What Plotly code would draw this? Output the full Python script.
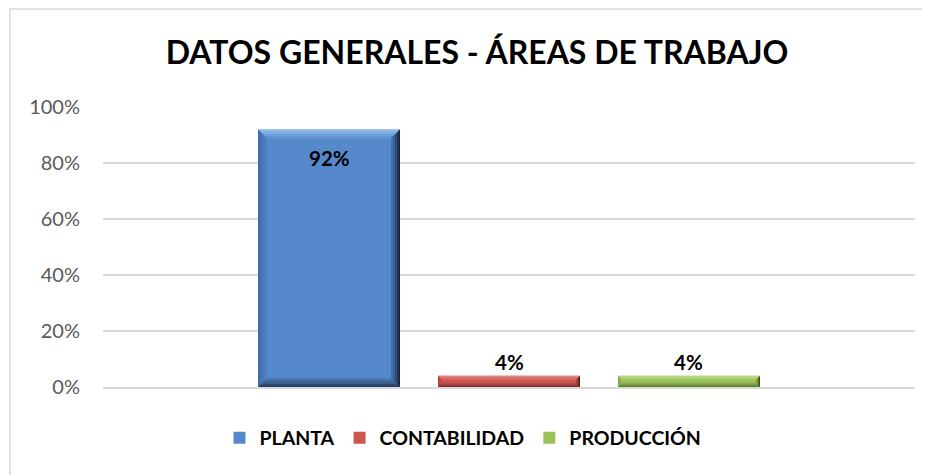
import plotly.graph_objects as go

# datos del gráfico
areas = ["PLANTA", "CONTABILIDAD", "PRODUCCIÓN"]
porcentajes = [0.92, 0.04, 0.04]
y_ticks = [0, 0.2, 0.4, 0.6, 0.8, 1.0]
y_tick_labels = ["0%", "20%", "40%", "60%", "80%", "100%"]

# colores: cara, borde superior, derecho, inferior, izquierdo (el bisel va del borde a la cara)
colores = [
    ("#5589cb", "#95bbeb", "#15243a", "#233b5e", "#3d6aa6"),
    ("#cd5651", "#e8938f", "#3e1514", "#6a2624", "#a8403c"),
    ("#9bc25a", "#c4e096", "#2e3d12", "#51682a", "#7e9f45"),
]

# la página añade 8px de margen al cuerpo, se compensa aquí
OFF = 8
W, H = 930, 475
PLOT_W, PLOT_H = 812, 280
M_L, M_T = 103 - OFF, 107 - OFF
M_R = W - M_L - PLOT_W
M_B = H - M_T - PLOT_H
BARGAP = 0.335
BARGROUPGAP = 0.211
FONT = "Lato"
STEPS = 5


def mezcla(c1, c2, t):
    a = [int(c1[k:k + 2], 16) for k in (1, 3, 5)]
    b = [int(c2[k:k + 2], 16) for k in (1, 3, 5)]
    return "#" + "".join("{:02x}".format(round(p + (q - p) * t)) for p, q in zip(a, b))


fig = go.Figure()
for i, (area, val) in enumerate(zip(areas, porcentajes)):
    fig.add_trace(
        go.Bar(
            x=[""],
            y=[val],
            name=area,
            marker=dict(color=colores[i][0], line=dict(width=0)),
            hoverinfo="skip",
        )
    )

# biseles y etiquetas calculados a partir de los valores
shapes = []
annotations = []
n = len(areas)
slot = (1 - BARGAP) / n
for i, val in enumerate(porcentajes):
    cx = -(1 - BARGAP) / 2 + slot * (i + 0.5)
    hw = slot * (1 - BARGROUPGAP) / 2
    x0, x1, y0, y1 = cx - hw, cx + hw, 0, val
    bev = min(9, val * PLOT_H / 2.6)
    face, top, right, bottom, left = colores[i]

    def esquinas(d):
        dx, dy = d / PLOT_W, d / PLOT_H
        return (x0 + dx, y0 + dy), (x1 - dx, y0 + dy), (x1 - dx, y1 - dy), (x0 + dx, y1 - dy)

    for s in range(STEPS):
        d0, d1 = bev * s / STEPS, bev * (s + 1) / STEPS
        bl0, br0, tr0, tl0 = esquinas(d0)
        bl1, br1, tr1, tl1 = esquinas(d1)
        t = 0.75 * s / (STEPS - 1)
        lados = [
            ((tl0, tr0, tr1, tl1), top),
            ((tr0, br0, br1, tr1), right),
            ((bl0, br0, br1, bl1), bottom),
            ((bl0, tl0, tl1, bl1), left),
        ]
        for pts, c in lados:
            path = "M " + " L ".join("{},{}".format(px, py) for px, py in pts) + " Z"
            shapes.append(dict(type="path", path=path, xref="x", yref="y",
                               fillcolor=mezcla(c, face, t), line=dict(width=0),
                               layer="above"))
    annotations.append(dict(
        x=cx, y=val, xref="x", yref="y",
        text="<b>{:.0%}</b>".format(val),
        showarrow=False, yanchor="middle",
        yshift=-29 if val > 0.5 else 14,
        font=dict(family=FONT, size=20.5, color="black"),
    ))

# marco del gráfico (solo se ven los bordes izquierdo y superior)
shapes.append(dict(
    type="rect", xref="paper", yref="paper",
    x0=(10 - OFF - M_L) / PLOT_W, x1=1.2,
    y0=-0.5, y1=(PLOT_H + M_T - (8 - OFF) - 1) / PLOT_H,
    line=dict(color="#d9d9d9", width=1.5), fillcolor="rgba(0,0,0,0)",
    layer="below",
))

fig.update_layout(
    width=W,
    height=H,
    margin=dict(l=M_L, r=M_R, t=M_T, b=M_B),
    paper_bgcolor="white",
    plot_bgcolor="white",
    barmode="group",
    bargap=BARGAP,
    bargroupgap=BARGROUPGAP,
    font=dict(family=FONT, size=20, color="#595959"),
    title=dict(
        text="<b>DATOS GENERALES - ÁREAS DE TRABAJO</b>",
        x=(477 - OFF) / W, xref="container", xanchor="center",
        y=1 - (53 - OFF) / H, yref="container", yanchor="middle",
        font=dict(family=FONT, size=32, color="black"),
    ),
    showlegend=True,
    legend=dict(
        orientation="h",
        xref="container", x=(463 - OFF) / W, xanchor="center",
        yref="container", y=1 - (438 - OFF) / H, yanchor="middle",
        font=dict(family=FONT, size=19.5, color="black", weight="bold"),
        itemwidth=30,
    ),
    xaxis=dict(type="category", range=[-0.5, 0.5], showticklabels=False,
               showgrid=False, zeroline=False,
               showline=True, linecolor="#d9d9d9", linewidth=1.5),
    yaxis=dict(range=[0, 1], tickvals=y_ticks, ticktext=y_tick_labels,
               showgrid=True, gridcolor="#d9d9d9", gridwidth=1.5,
               zeroline=False, showline=False, ticks="", ticklabelstandoff=22),
    shapes=shapes,
    annotations=annotations,
)

fig.write_html("out.html")
